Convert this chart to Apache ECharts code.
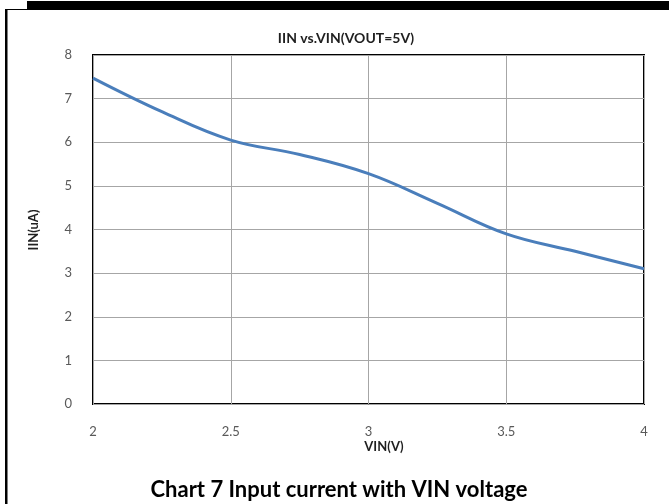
<!DOCTYPE html>
<html>
<head>
	<meta charset="utf-8">
	<title>IIN vs.VIN</title>
	<script type="text/javascript" src="https://cdn.jsdelivr.net/npm/echarts@6/dist/echarts.min.js"></script>
	<style>
		html, body { margin: 0; padding: 0; background: #fff; }
		#main { width: 669px; height: 504px; }
	</style>
</head>
<body>
	<div id="main"></div>
	<script type="text/javascript">
		// data
		var vin = [2, 2.25, 2.5, 2.75, 3, 3.25, 3.5, 3.75, 4];
		var iin = [7.47, 6.7, 6.05, 5.72, 5.28, 4.6, 3.9, 3.5, 3.1];
		var yTicks = [0, 1, 2, 3, 4, 5, 6, 7, 8];

		var font = 'Lato, "Open Sans", sans-serif';
		var myChart = echarts.init(document.getElementById('main'));

		var option = {
			backgroundColor: '#fff',
			animation: false,
			grid: {
				left: 93, right: 25, top: 55, bottom: 100,
				show: true, borderColor: '#000', borderWidth: 2
			},
			xAxis: {
				type: 'value', min: 2, max: 4, interval: 0.5,
				axisLine: { show: false },
				axisTick: { show: false },
				splitLine: { lineStyle: { color: '#a6a6a6', width: 1 } },
				axisLabel: { color: '#595959', fontFamily: font, fontSize: 13, margin: 21 }
			},
			yAxis: {
				type: 'value', min: yTicks[0], max: yTicks[yTicks.length - 1], interval: 1,
				axisLine: { show: false },
				axisTick: { show: false },
				splitLine: { lineStyle: { color: '#a6a6a6', width: 1 } },
				axisLabel: { color: '#595959', fontFamily: font, fontSize: 13, margin: 21 }
			},
			series: [{
				type: 'line',
				data: vin.map(function (v, i) { return [v, iin[i]]; }),
				smooth: 0.4,
				showSymbol: false,
				lineStyle: { color: '#4a7ebb', width: 3 }
			}],
			graphic: [
				{ type: 'rect', shape: { x: 27, y: 1, width: 642, height: 9 }, style: { fill: '#000' } },
				{ type: 'rect', shape: { x: 5, y: 9, width: 2.5, height: 495 }, style: { fill: '#000' } },
				{ type: 'line', shape: { x1: 5, y1: 9.5, x2: 27, y2: 9.5 }, style: { stroke: '#000', lineWidth: 1 } },
				{ type: 'text', x: 346, y: 38, style: { text: 'IIN vs.VIN(VOUT=5V)', fill: '#1f1f1f', font: 'bold 14px ' + font, textAlign: 'center', textVerticalAlign: 'middle' } },
				{ type: 'text', x: 34, y: 230, rotation: Math.PI / 2, style: { text: 'IIN(uA)', fill: '#1f1f1f', font: 'bold 13px ' + font, textAlign: 'center', textVerticalAlign: 'middle' } },
				{ type: 'text', x: 384, y: 447, style: { text: 'VIN(V)', fill: '#1f1f1f', font: 'bold 13px ' + font, textAlign: 'center', textVerticalAlign: 'middle' } },
				{ type: 'text', x: 339, y: 490, style: { text: 'Chart 7 Input current with VIN voltage', fill: '#000', font: 'bold 22px ' + font, textAlign: 'center', textVerticalAlign: 'middle' } }
			]
		};

		myChart.setOption(option);
	</script>
</body>
</html>
